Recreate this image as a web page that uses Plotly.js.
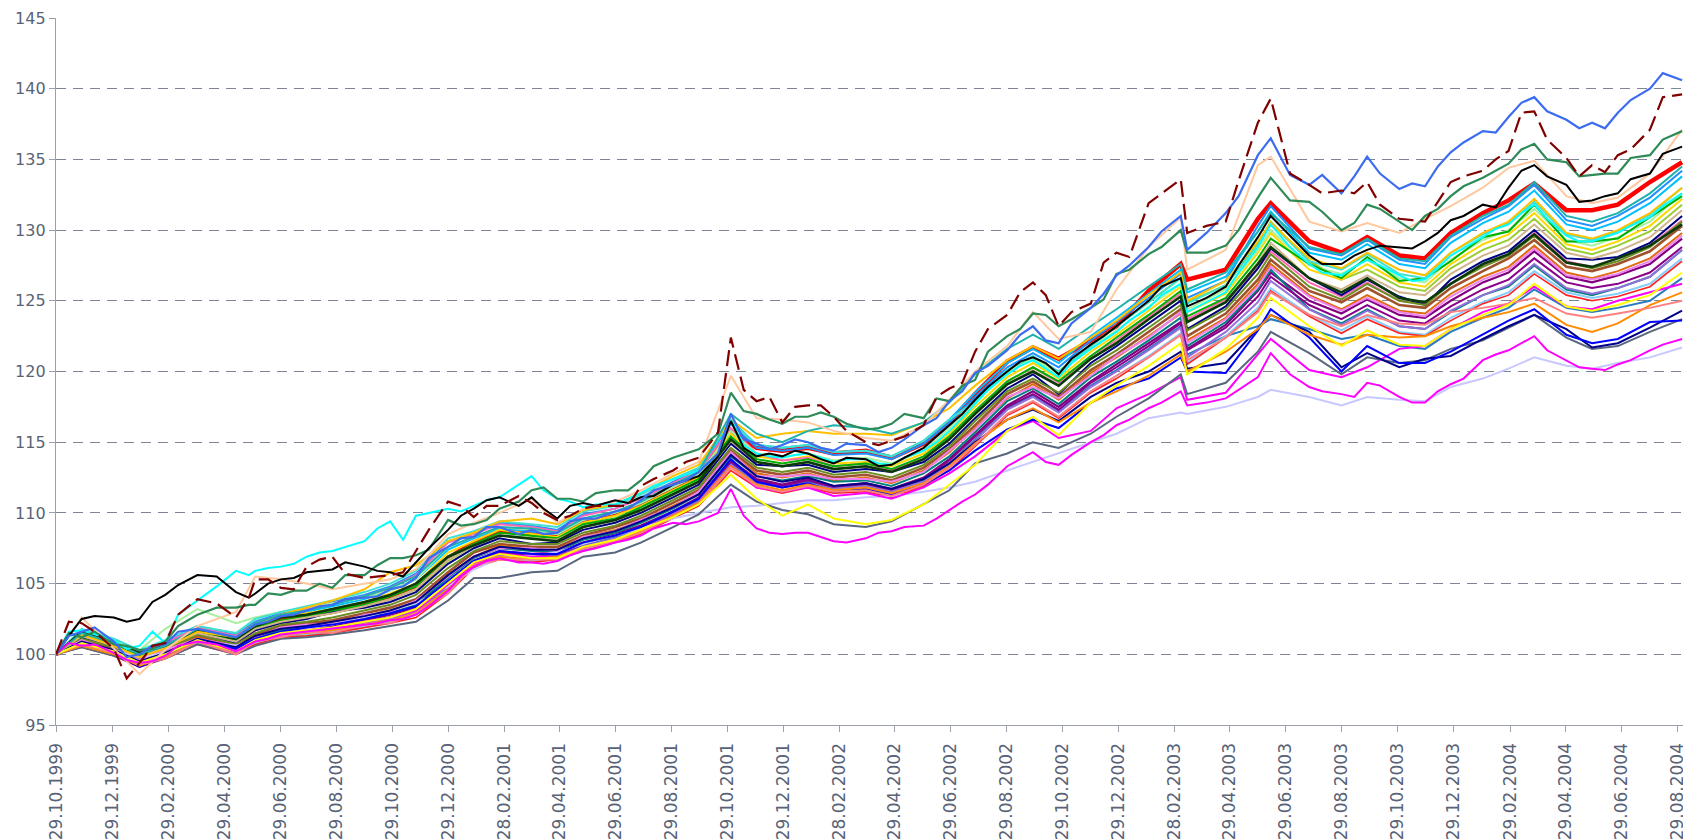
<!DOCTYPE html>
<html>
<head>
<meta charset="utf-8">
<script src="https://cdn.plot.ly/plotly-3.0.1.min.js"></script>
<style>
  html, body { margin: 0; padding: 0; background: #ffffff; }
  #chart { width: 1683px; height: 840px; }
</style>
</head>
<body>
<div id="chart"></div>
<script>
// ---------- DATA ----------
// monthly grid used by most series
const dates = ['1999-10-29','1999-11-26','1999-12-31','2000-01-28','2000-02-25','2000-03-31','2000-05-12','2000-06-02','2000-06-30','2000-07-28',
'2000-08-25','2000-09-29','2000-10-27','2000-11-24','2000-12-29','2001-01-26','2001-02-23','2001-03-30','2001-04-27','2001-05-25',
'2001-06-29','2001-07-27','2001-08-31','2001-09-28','2001-11-02','2001-11-30','2001-12-28','2002-01-25','2002-02-22','2002-03-29',
'2002-04-26','2002-05-31','2002-06-28','2002-07-26','2002-08-30','2002-09-27','2002-10-25','2002-11-29','2002-12-27','2003-01-31',
'2003-03-07','2003-03-14','2003-04-25','2003-05-30','2003-06-13','2003-07-25','2003-08-29','2003-09-26','2003-10-31','2003-11-28',
'2003-12-26','2004-01-30','2004-02-27','2004-03-26','2004-04-30','2004-05-28','2004-06-25','2004-07-30','2004-09-03'];

// finer (about two-weekly) grid used by the most visible single lines
const datesFine = ['1999-10-29','1999-11-12','1999-11-26','1999-12-10','1999-12-31','2000-01-14','2000-01-28','2000-02-11','2000-02-25','2000-03-10',
'2000-03-31','2000-04-21','2000-05-12','2000-05-26','2000-06-02','2000-06-16','2000-06-30','2000-07-14','2000-07-28','2000-08-11',
'2000-08-25','2000-09-08','2000-09-29','2000-10-13','2000-10-27','2000-11-10','2000-11-24','2000-12-08','2000-12-29','2001-01-12',
'2001-01-26','2001-02-09','2001-02-23','2001-03-16','2001-03-30','2001-04-12','2001-04-27','2001-05-11','2001-05-25','2001-06-08',
'2001-06-29','2001-07-13','2001-07-27','2001-08-10','2001-08-31','2001-09-14','2001-09-28','2001-10-19','2001-11-02','2001-11-16',
'2001-11-30','2001-12-14','2001-12-28','2002-01-11','2002-01-25','2002-02-08','2002-02-22','2002-03-08','2002-03-29','2002-04-12',
'2002-04-26','2002-05-10','2002-05-31','2002-06-14','2002-06-28','2002-07-12','2002-07-26','2002-08-09','2002-08-30','2002-09-13',
'2002-09-27','2002-10-11','2002-10-25','2002-11-08','2002-11-29','2002-12-13','2002-12-27','2003-01-10','2003-01-31','2003-02-14',
'2003-03-07','2003-03-14','2003-04-04','2003-04-25','2003-05-09','2003-05-30','2003-06-13','2003-07-04','2003-07-25','2003-08-08',
'2003-08-29','2003-09-12','2003-09-26','2003-10-10','2003-10-31','2003-11-14','2003-11-28','2003-12-12','2003-12-26','2004-01-09',
'2004-01-30','2004-02-13','2004-02-27','2004-03-12','2004-03-26','2004-04-09','2004-04-30','2004-05-14','2004-05-28','2004-06-11',
'2004-06-25','2004-07-09','2004-07-30','2004-08-13','2004-09-03'];

const tickLabels = ['29.10.1999','29.12.1999','29.02.2000','29.04.2000','29.06.2000','29.08.2000','29.10.2000','29.12.2000',
'28.02.2001','29.04.2001','29.06.2001','29.08.2001','29.10.2001','29.12.2001','28.02.2002','29.04.2002','29.06.2002',
'29.08.2002','29.10.2002','29.12.2002','28.02.2003','29.04.2003','29.06.2003','29.08.2003','29.10.2003','29.12.2003',
'29.02.2004','29.04.2004','29.06.2004','29.08.2004'];

// band series (monthly grid)
const dodgerBlue = [100,101.7,101.0,100.2,100.9,102.0,101.4,102.3,102.9,103.3,
103.7,104.2,104.8,105.7,108.0,108.5,109.3,109.1,108.8,109.9,
110.3,111.1,112.2,113.1,116.3,114.6,114.4,114.6,114.1,114.2,
113.8,114.9,116.4,118.2,120.3,121.3,120.3,122.2,123.5,125.2,
126.9,125.2,126.4,130.3,131.7,128.7,128.2,129.3,127.9,127.6,
129.5,130.8,131.7,133.2,130.7,130.3,131.0,132.3,134.2];
const deepSkyBlue = [100,101.5,100.9,100.0,100.7,101.8,101.2,102.1,102.7,103.0,
103.4,103.9,104.5,105.3,107.4,108.2,108.9,108.7,108.5,109.5,
110.0,110.7,111.9,112.7,116.6,114.8,114.6,114.8,114.3,114.4,
114.0,115.1,116.6,118.5,120.6,121.6,120.6,122.5,123.8,125.5,
127.2,125.6,126.7,129.9,131.3,128.4,127.9,129.0,127.6,127.3,
129.1,130.5,131.3,132.8,130.4,130.0,130.6,131.9,133.8];
const darkGreen = [100,101.6,100.8,100.1,100.6,101.7,101.1,102.0,102.6,102.8,
103.2,103.7,104.2,105.0,106.9,107.7,108.4,108.2,108.0,109.0,
109.5,110.2,111.3,112.2,115.2,113.6,113.3,113.6,113.1,113.3,
112.9,113.8,115.2,117.0,119.1,120.0,119.0,120.9,122.0,123.7,
125.3,123.5,124.9,127.6,128.8,126.6,125.6,126.6,125.2,124.9,
126.2,127.6,128.3,129.7,127.7,127.4,128.0,128.9,130.4];
const sienna = [100,101.0,100.4,99.6,100.2,101.3,100.6,101.4,102.0,102.2,
102.4,102.9,103.3,103.9,105.8,107.2,107.8,107.6,107.6,108.4,
109.0,109.6,110.7,111.6,114.4,113.0,112.7,113.0,112.5,112.7,
112.3,113.2,114.5,116.2,118.4,119.3,118.2,120.1,121.2,122.8,
124.4,122.5,124.1,126.5,127.9,125.7,124.9,125.9,124.7,124.5,
125.9,127.1,128.0,129.3,127.4,127.1,127.6,128.5,130.3];
const purple = [100,100.8,100.2,99.4,100.0,101.0,100.3,101.1,101.6,101.8,
102.0,102.4,102.8,103.3,105.1,106.6,107.3,107.1,107.2,107.9,
108.5,109.1,110.1,111.1,113.7,112.4,112.0,112.4,111.9,112.1,
111.7,112.5,113.8,115.5,117.6,118.6,117.5,119.3,120.5,122.0,
123.5,121.6,123.3,125.7,127.0,125.0,124.1,125.1,124.0,123.8,
125.0,126.3,127.0,128.5,126.7,126.3,126.8,127.6,129.4];
const chocolate = [100,100.9,100.3,99.5,100.1,101.2,100.5,101.3,101.8,102.0,
102.3,102.7,103.1,103.7,105.6,106.9,107.7,107.4,107.4,108.3,
108.8,109.4,110.5,111.4,114.2,112.8,112.5,112.8,112.3,112.5,
112.1,113.0,114.3,116.0,118.1,119.1,118.0,119.9,121.0,122.5,
124.1,122.2,123.8,126.2,127.6,125.4,124.4,125.4,124.3,124.1,
125.5,126.7,127.4,128.9,127.0,126.6,127.1,128.0,129.8];
const yellowGreen = [100,101.3,100.6,99.8,100.5,101.5,100.9,101.8,102.3,102.6,
102.9,103.4,103.9,104.6,106.6,107.7,108.4,108.2,108.1,109.0,
109.5,110.2,111.3,112.2,115.1,113.6,113.3,113.6,113.1,113.3,
112.9,113.8,115.6,117.9,120.1,121.0,120.0,121.9,123.2,124.9,
126.6,124.9,126.1,129.0,130.6,127.8,126.5,127.2,126.0,125.7,
127.3,128.6,129.3,130.8,128.7,128.3,128.9,129.9,131.8];
const goldBand = [100,101.4,100.8,100.0,100.6,101.7,101.1,102.0,102.6,102.9,
103.2,103.7,104.3,105.0,107.2,108.0,108.8,108.5,108.3,109.3,
109.8,110.5,111.6,112.5,115.6,114.0,113.7,114.0,113.5,113.6,
113.3,114.2,115.6,117.5,119.6,120.6,119.5,121.4,122.6,124.3,
126.0,124.2,125.5,128.4,129.8,127.2,126.5,127.6,126.3,126.0,
127.6,129.0,129.7,131.2,129.0,128.6,129.2,130.3,132.2];
const teal = [100,100.9,100.2,99.5,100.1,101.1,100.4,101.2,101.7,101.9,
102.1,102.6,102.9,103.5,105.4,106.8,107.5,107.3,107.3,108.1,
108.6,109.3,110.3,111.3,114.0,112.6,112.3,112.6,112.2,112.3,
111.9,112.8,114.0,115.7,117.9,118.8,117.7,119.6,120.7,122.2,
123.8,121.8,123.5,125.8,127.2,124.4,123.4,124.4,123.2,123.0,
124.2,125.4,126.0,127.5,125.8,125.4,125.9,126.7,128.6];
const hotPink = [100,101.6,101.0,100.1,100.8,101.9,101.3,102.2,102.8,103.2,
103.6,104.1,104.7,105.6,107.9,108.5,109.2,109.0,108.7,109.8,
110.3,111.0,112.1,113.0,116.0,114.2,113.7,113.9,113.3,113.5,
113.0,114.0,115.4,117.2,119.3,120.3,119.2,121.1,122.2,123.9,
125.5,123.7,125.1,127.3,128.5,126.3,125.3,126.3,125.0,124.8,
126.2,127.5,128.2,129.8,127.8,127.4,128.0,128.9,130.7];
const lightGreen = [100,101.5,101.0,100.3,101.8,103.2,102.2,102.6,103.0,103.3,
103.6,104.0,104.5,105.3,107.6,108.3,109.0,108.8,108.5,109.5,
110.0,110.7,111.8,112.7,115.8,114.2,114.0,114.2,113.7,113.9,
113.5,114.4,116.0,117.8,119.9,120.9,119.8,121.7,122.9,124.6,
126.2,124.4,125.8,128.6,130.0,127.5,126.9,127.9,126.6,126.3,
127.9,129.3,130.0,131.5,129.3,128.9,129.5,130.6,132.6];
const navyBand = [100,101.2,100.5,99.8,100.4,101.5,100.8,101.7,102.2,102.5,
103.0,103.3,103.7,104.4,106.4,107.5,108.2,107.8,107.9,108.8,
109.3,110.0,111.1,112.0,114.9,113.4,113.3,113.4,112.9,113.1,
112.9,113.6,114.9,116.7,118.8,119.8,118.4,120.6,121.8,123.4,
125.0,123.0,124.6,127.3,128.7,126.6,125.4,126.5,125.3,124.7,
126.5,127.8,128.5,130.0,128.0,127.9,128.1,129.1,131.0];
const olive = [100,101.1,100.5,99.7,100.3,101.4,100.7,101.5,102.1,102.3,
102.6,103.1,103.5,104.2,106.1,107.3,108.0,107.8,107.8,108.6,
109.1,109.8,110.9,111.8,114.6,113.2,112.9,113.2,112.7,112.9,
112.5,113.4,114.7,116.5,118.6,119.5,118.5,120.4,121.5,123.1,
124.7,122.9,124.4,126.9,128.3,126.0,125.1,126.2,125.0,124.7,
126.2,127.4,128.2,129.6,127.7,127.3,127.8,128.8,130.6];
const steelBlue = [100,100.7,100.1,99.3,99.9,100.9,100.2,101.0,101.5,101.6,
101.8,102.3,102.6,103.1,104.8,106.5,107.1,106.9,107.0,107.7,
108.3,108.9,110.0,110.9,113.5,112.2,111.8,112.2,111.8,112.0,
111.6,112.3,113.5,115.2,117.4,118.3,117.2,119.0,120.1,121.6,
123.2,121.2,122.5,123.2,123.7,123.0,122.3,122.6,121.8,121.6,
122.8,123.8,124.5,125.8,124.5,124.2,124.5,125.0,126.6];
const lightSkyBlue = [100,100.6,100.0,99.2,99.8,100.8,100.1,100.8,101.3,101.4,
101.6,102.0,102.3,102.8,104.4,106.2,106.8,106.6,106.8,107.4,
108.0,108.6,109.7,110.6,113.2,111.9,111.5,111.9,111.5,111.6,
111.2,112.0,113.2,114.8,117.0,117.9,116.8,118.6,119.7,121.1,
122.7,120.6,122.5,124.5,125.9,124.0,122.9,123.9,122.8,122.6,
123.8,124.9,125.6,127.1,125.6,125.2,125.5,126.2,128.0];
const violet = [100,101.0,100.2,99.6,100.3,101.1,100.6,101.2,101.9,102.1,
102.1,102.8,103.0,103.8,105.5,106.9,107.5,107.5,107.3,108.3,
108.7,109.5,110.4,111.5,114.3,112.6,112.6,112.7,112.4,112.4,
112.2,112.9,114.4,115.9,118.2,118.9,118.1,119.7,121.1,122.4,
124.2,122.0,123.7,126.0,127.4,125.3,124.3,125.2,124.2,123.9,
125.3,126.5,127.2,128.7,126.8,126.5,126.9,127.8,129.6];
const greenBand = [100,101.3,100.7,99.9,100.6,101.6,101.0,101.9,102.4,102.7,
103.1,103.5,104.1,104.8,106.9,107.8,108.6,108.4,108.2,109.2,
109.6,110.4,111.5,112.4,115.4,113.8,113.5,113.8,113.3,113.5,
113.1,114.0,115.4,117.2,119.3,120.3,119.3,121.1,122.4,124.0,
125.7,123.9,125.2,128.0,129.4,127.6,126.6,128.1,126.4,126.6,
127.8,129.5,129.9,131.8,129.2,129.2,129.4,130.9,132.4];
const darkMagenta = [100,100.8,100.1,99.3,100.0,100.9,100.3,101.0,101.5,101.7,
101.9,102.3,102.6,103.2,105.0,106.5,107.2,107.0,107.1,107.8,
108.4,109.0,110.0,111.0,113.6,112.3,111.9,112.3,111.8,112.0,
111.6,112.4,113.7,115.4,117.5,118.4,117.3,119.2,120.3,121.8,
123.4,121.5,123.1,125.3,126.7,124.7,123.7,124.7,123.6,123.4,
124.6,125.8,126.5,128.0,126.3,125.9,126.2,127.0,128.8];
const turquoise = [100,101.8,101.1,100.3,101.0,102.0,101.5,102.5,103.0,103.4,
103.8,104.4,105.0,105.9,108.2,108.7,109.4,109.2,109.0,110.1,
110.5,111.3,112.4,113.2,116.5,114.8,114.6,114.8,114.3,114.4,
114.0,115.1,116.6,117.9,120.1,121.1,120.0,121.8,123.2,124.9,
126.6,124.8,126.1,129.1,130.5,127.8,127.2,128.3,126.9,126.6,
128.4,129.7,130.5,132.0,129.7,129.3,129.9,131.1,133.0];
const tan = [100,101.3,100.6,99.8,100.5,101.5,100.9,101.8,102.3,102.6,
102.9,103.4,103.9,104.6,106.7,107.7,108.4,108.2,108.1,109.0,
109.5,110.2,111.3,112.2,115.1,113.6,113.3,113.6,113.1,113.3,
112.9,113.8,115.2,117.0,119.1,120.1,119.0,120.9,122.1,123.7,
125.4,123.5,124.9,127.7,129.1,126.6,125.8,126.8,125.6,125.4,
126.9,128.2,128.9,130.4,128.4,128.0,128.5,129.5,131.4];
const redThin = [100,100.5,99.9,99.1,99.7,100.7,100.0,100.7,101.2,101.3,
101.5,101.9,102.2,102.6,104.3,106.1,106.7,106.5,106.7,107.3,
107.9,108.5,109.6,110.5,113.0,111.8,111.4,111.8,111.4,111.5,
111.1,111.9,113.0,114.7,116.9,117.8,116.7,118.5,119.5,121.0,
122.6,120.5,122.4,124.3,125.7,123.9,122.7,123.7,122.7,122.5,
123.6,124.8,125.4,126.9,125.4,125.0,125.3,126.0,127.8];
const mediumPurple = [100,100.7,100.0,99.3,99.9,100.9,100.1,100.9,101.4,101.6,
101.8,102.2,102.5,103.0,104.7,106.4,107.0,106.8,106.9,107.6,
108.2,108.8,109.9,110.8,113.4,112.1,111.8,112.1,111.7,111.9,
111.5,112.2,113.4,115.1,117.3,118.2,117.1,118.9,120.0,121.5,
123.1,121.0,122.8,124.9,126.4,124.4,123.3,124.3,123.2,123.0,
124.3,125.4,126.1,127.6,125.9,125.5,125.9,126.7,128.6];

// distinct series on the monthly grid
const lavender = [100,100.6,100.3,99.8,100.1,100.9,100.6,101.0,101.5,101.8,
102.1,102.6,103.1,103.6,104.8,106.0,106.8,107.0,107.2,107.8,
108.4,108.9,109.6,110.0,110.4,110.5,110.7,110.9,110.9,111.1,
111.2,111.5,111.8,112.2,113.0,113.6,114.2,115.0,115.6,116.7,
117.1,117.0,117.5,118.2,118.7,118.2,117.6,118.2,118.0,117.9,
118.9,119.5,120.2,121.0,120.4,120.2,120.6,121.0,121.7];
const magenta2 = [100,100.7,100.2,99.3,99.9,101.0,100.3,101.0,101.5,101.7,
101.9,102.3,102.6,103.1,104.9,106.4,107.1,106.9,106.9,107.6,
108.1,108.7,109.8,110.7,113.3,111.8,111.5,111.8,111.2,111.4,
111.0,111.8,112.8,114.0,115.8,116.5,115.3,115.8,117.4,118.4,
119.6,118.0,118.5,121.2,122.3,120.1,119.6,120.3,121.6,121.8,
123.0,124.2,124.8,126.0,124.6,124.4,125.0,125.6,126.2];
const slateGray = [100,100.5,99.9,99.2,99.7,100.7,100.0,100.6,101.1,101.2,
101.4,101.7,102.0,102.3,103.8,105.4,105.4,105.8,105.9,106.9,
107.2,107.9,109.0,109.9,112.0,110.8,110.2,109.9,109.2,109.0,
109.4,110.6,111.6,113.5,114.2,115.0,114.6,115.6,116.8,118.1,
119.8,118.4,119.2,121.4,122.8,121.3,119.8,121.0,120.6,120.8,
121.6,122.2,123.1,124.0,122.4,121.6,121.8,122.8,123.7];
const blueLow = [100,100.8,100.0,99.1,99.8,101.0,100.4,101.1,101.6,101.9,
102.1,102.5,102.9,103.4,105.2,106.6,107.3,107.1,107.1,107.9,
108.4,109.0,110.1,111.0,113.8,112.2,111.8,112.1,111.5,111.7,
111.3,112.0,113.0,114.4,115.9,116.6,116.0,117.8,118.8,119.5,
121.0,120.0,119.9,122.9,124.4,122.4,120.0,121.8,120.6,120.6,
121.4,122.6,123.6,124.4,122.6,122.0,122.3,123.5,123.6];
const navyLow = [100,100.9,100.3,99.5,100.1,101.1,100.5,101.3,101.8,102.0,
102.3,102.7,103.1,103.7,105.6,106.9,107.6,107.4,107.4,108.2,
108.7,109.4,110.4,111.3,114.1,112.6,112.2,112.5,111.9,112.1,
111.7,112.4,113.5,115.0,116.6,117.3,116.5,118.2,119.2,120.0,
121.4,120.2,120.6,123.0,124.0,122.8,120.3,121.3,120.3,120.9,
121.1,122.3,123.2,124.0,123.0,121.7,122.0,123.1,124.3];
const orangeLow = [100,100.6,100.0,99.2,99.8,100.9,100.2,100.9,101.4,101.5,
101.7,102.1,102.4,102.9,104.6,106.3,106.9,106.7,106.9,107.5,
108.1,108.7,109.8,110.7,113.3,112.0,111.6,112.0,111.6,111.8,
111.4,112.1,113.3,114.9,116.6,117.4,116.4,117.8,118.6,119.7,
121.2,120.0,121.4,123.0,124.0,122.6,121.9,122.6,122.4,122.5,
123.2,123.8,124.2,124.8,123.3,122.8,123.4,124.7,125.6];
const salmon = [100,100.7,100.1,99.3,99.7,100.9,100.0,100.9,101.2,101.6,
101.5,102.1,102.2,102.9,104.3,106.3,106.7,106.7,106.7,107.5,
108.0,108.6,109.7,110.6,113.2,111.9,111.5,111.9,111.5,111.6,
111.2,112.0,113.2,114.8,117.0,117.9,116.8,118.6,119.7,121.0,
122.6,120.8,122.4,124.2,125.6,124.0,123.2,124.0,123.4,123.3,
124.2,124.5,124.8,125.2,124.1,123.8,124.1,124.5,125.0];
const yellowLow = [100,100.8,100.2,99.4,100.0,101.0,100.2,101.0,101.5,101.7,
101.9,102.3,102.6,103.2,105.0,106.5,107.1,106.8,106.8,107.6,
108.1,108.8,109.7,110.6,112.7,111.0,109.8,110.6,109.6,109.2,
109.5,110.6,112.0,113.4,115.8,116.8,115.5,117.8,119.0,120.4,
122.0,119.8,121.6,123.8,125.2,123.2,121.8,122.9,121.9,121.8,
123.0,124.0,124.7,126.2,124.6,124.3,124.7,125.4,127.0];
const goldTop = [100,101.4,100.6,99.8,100.4,101.6,101.2,102.1,102.8,103.3,
103.8,104.6,105.8,106.3,108.0,108.6,109.4,109.6,109.2,110.2,
110.6,111.4,112.6,113.4,116.6,115.3,115.6,115.8,115.6,115.6,
115.5,116.4,117.4,119.0,120.8,121.8,120.9,122.4,123.6,125.4,
127.0,125.0,126.4,129.2,130.5,128.0,127.3,128.4,127.2,126.8,
128.4,129.8,130.6,132.2,129.8,129.4,130.0,131.2,133.0];
const lightSeaGreen = [100,101.5,100.8,100.0,100.6,101.8,101.2,102.2,102.8,103.1,
103.5,104.1,104.7,105.5,107.6,108.3,109.0,108.9,108.6,109.6,
110.1,110.8,112.0,112.9,117.0,115.6,115.0,115.8,116.2,116.0,
115.6,116.4,117.8,119.8,121.6,122.6,121.6,123.2,124.4,126.0,
127.6,125.8,127.0,129.9,131.2,128.8,128.3,129.4,128.0,127.8,
129.6,131.0,131.8,133.4,131.0,130.6,131.2,132.6,134.5];
const redThick = [100,101.3,100.6,99.9,100.5,101.6,100.9,101.8,102.4,102.7,
103.0,103.5,104.0,104.7,106.8,107.9,108.7,108.6,108.4,109.4,
109.9,110.7,111.8,112.6,115.8,114.6,114.4,114.6,114.2,114.4,
113.9,114.9,116.4,118.4,120.7,121.7,120.9,122.2,123.2,125.7,
127.6,126.5,127.2,130.8,131.9,129.2,128.4,129.5,128.2,128.0,
129.8,131.2,132.1,133.3,131.4,131.4,131.8,133.4,134.8];
const peach = [100,102.6,100.4,98.6,100.3,102.0,103.0,105.5,105.3,105.0,
104.6,105.0,105.3,106.0,108.5,109.3,110.0,111.0,109.3,110.3,
110.8,111.6,112.8,113.6,119.7,116.7,116.6,116.4,115.8,115.3,
115.1,116.2,118.0,120.0,121.8,124.2,122.3,122.8,125.8,128.8,
130.9,127.2,128.6,134.6,135.2,130.6,129.9,130.5,129.8,130.8,
131.7,133.0,134.4,134.9,132.4,131.9,132.3,134.0,137.1];

// distinct series on the finer grid
const magentaLow = [100,100.8,100.6,100.7,100.1,99.6,99.4,99.5,99.9,100.6,
100.9,100.7,100.2,100.7,100.9,101.1,101.4,101.5,101.6,101.7,
101.8,101.9,102.1,102.2,102.4,102.5,102.8,103.4,104.5,105.5,
106.2,106.6,106.8,106.5,106.5,106.4,106.6,107.0,107.3,107.5,
107.9,108.1,108.4,108.9,109.3,109.2,109.4,110.0,111.7,109.8,
108.9,108.6,108.5,108.6,108.6,108.3,108.0,107.9,108.2,108.6,
108.7,109.0,109.1,109.6,110.2,110.8,111.3,112.0,113.3,113.8,
114.3,113.6,113.4,114.1,115.0,115.5,116.2,116.6,117.4,117.8,
118.6,117.6,117.8,118.1,118.7,119.6,121.3,119.8,118.9,118.6,
118.4,118.2,119.2,119.0,118.2,117.8,117.8,118.6,119.1,119.5,
120.8,121.2,121.5,122.0,122.5,121.5,120.8,120.3,120.2,120.1,
120.5,120.8,121.5,121.9,122.3];
const cyanLine = [100,101.6,101.7,101.4,101.0,100.4,100.6,101.6,100.8,102.8,
103.8,104.8,105.9,105.6,105.9,106.1,106.2,106.4,106.9,107.2,
107.3,107.6,108.0,108.9,109.4,108.1,109.8,110.0,110.3,110.1,
110.5,110.9,111.1,112.0,112.6,111.6,111.0,110.8,110.4,110.6,
110.6,111.0,111.4,111.9,112.4,112.7,113.0,114.0,116.6,114.8,
114.2,114.0,113.9,114.1,114.2,113.9,113.6,113.8,113.8,113.5,
113.4,113.9,114.4,115.0,115.8,116.7,117.7,118.7,119.8,120.4,
120.8,120.2,119.6,120.6,121.6,122.2,122.8,123.6,124.5,125.4,
126.2,124.2,124.9,125.6,127.0,128.8,130.4,128.8,127.6,127.0,
126.8,127.4,127.9,127.5,126.8,126.4,126.5,127.3,128.2,128.7,
129.5,130.1,130.4,131.2,131.8,130.8,129.6,129.2,129.2,129.5,
129.8,130.3,130.9,131.7,132.6];
const seaGreen = [100,101.5,101.2,101.6,100.7,100.6,100.3,100.4,100.9,102.0,
102.8,103.3,103.3,103.5,103.5,104.3,104.2,104.5,104.5,105.0,
104.7,105.6,105.6,106.3,106.8,106.8,107.0,107.4,109.5,109.1,
109.2,109.5,110.3,110.8,111.6,111.8,111.0,111.0,110.8,111.4,
111.6,111.6,112.3,113.3,113.9,114.2,114.5,115.6,118.5,117.2,
117.0,116.6,116.3,116.8,116.8,117.1,116.8,116.3,115.9,116.0,
116.3,117.0,116.7,118.1,117.9,119.0,119.4,121.4,122.5,123.0,
124.1,124.0,123.2,123.7,124.5,125.1,126.9,127.2,128.3,128.8,
130.0,128.4,128.4,128.9,130.0,132.3,133.7,132.1,132.0,131.3,
130.0,130.5,131.8,131.5,130.6,130.0,131.0,131.5,132.4,133.1,
133.7,134.2,134.7,135.7,136.1,135.0,134.8,133.8,133.9,134.0,
134.0,135.1,135.3,136.4,137.0];
const blackLine = [100,101.3,102.5,102.7,102.6,102.3,102.5,103.7,104.2,104.9,
105.6,105.5,104.4,104.0,104.3,105.0,105.3,105.4,105.8,105.9,
106.0,106.5,106.2,105.9,105.8,105.5,106.5,107.5,108.8,109.8,
110.3,110.9,111.1,110.5,111.1,110.3,109.6,110.5,110.7,110.5,
110.9,110.7,111.1,111.2,112.0,112.3,112.6,114.0,116.5,114.6,
114.0,114.2,114.0,114.4,114.2,113.8,113.5,113.9,113.8,113.3,
113.4,113.9,114.6,115.4,116.2,117.0,118.0,118.9,120.0,120.7,
121.0,120.6,119.8,120.9,121.9,122.5,123.2,123.9,125.0,126.0,
126.6,124.6,125.2,126.0,127.5,129.5,131.0,129.6,128.2,127.6,
127.6,128.2,128.6,128.9,128.8,128.7,129.2,129.8,130.7,131.0,
131.8,131.6,133.0,134.2,134.6,133.8,133.2,132.0,132.1,132.4,
132.6,133.6,134.0,135.4,135.9];
const royalBlue = [100,101.3,101.6,101.9,100.9,99.8,100.0,100.6,100.7,101.6,
101.8,101.5,101.2,101.8,102.1,102.3,102.7,102.8,103.1,103.4,
103.5,103.9,104.0,104.1,104.6,104.8,105.4,106.8,107.6,108.2,
108.3,109.0,109.0,108.5,108.8,108.5,108.6,109.4,109.6,109.6,
110.1,110.3,110.9,111.6,112.0,112.3,112.9,114.2,117.0,115.2,
114.9,114.5,114.8,115.2,115.0,114.6,114.4,114.9,114.8,114.3,
114.6,115.2,116.2,116.7,117.9,118.6,119.9,120.4,121.5,122.6,
123.2,122.2,122.0,123.4,124.5,125.5,126.8,127.5,128.8,129.9,
131.0,128.6,129.8,131.2,132.4,135.3,136.5,133.9,133.2,133.9,
132.6,133.8,135.2,134.0,132.9,133.3,133.1,134.5,135.5,136.2,
137.0,136.9,138.0,139.0,139.4,138.4,137.8,137.2,137.6,137.2,
138.3,139.2,140.0,141.1,140.6];
const maroonDashed = [100,102.3,102.2,101.6,100.4,98.3,99.4,100.6,100.8,102.8,
103.9,103.6,102.6,104.0,105.3,105.3,104.7,104.6,106.2,106.7,
106.9,105.7,105.4,105.5,105.6,105.8,107.3,108.8,110.8,110.5,
109.7,110.5,110.5,111.2,110.7,110.0,109.5,109.8,110.3,110.5,
110.5,110.5,111.9,112.4,113.0,113.6,113.9,115.7,122.4,118.7,
117.9,118.2,116.4,117.5,117.6,117.6,116.8,115.8,115.0,114.8,
115.1,115.4,116.2,118.2,118.8,119.2,121.4,123.0,124.0,125.6,
126.3,125.4,123.2,124.2,124.8,127.7,128.4,128.1,131.9,132.6,
133.6,129.8,130.3,130.6,133.5,137.6,139.3,134.0,133.2,132.6,
132.8,132.6,133.4,131.8,130.8,130.7,130.6,132.0,133.4,133.8,
134.2,135.0,135.6,138.3,138.4,136.4,135.1,133.8,134.6,134.1,
135.3,135.7,137.1,139.4,139.6];

// ---------- STYLE / DRAWING ORDER ----------
const seriesList = [
  {name:'Red thick', y:redThick, color:'#ff0000', width:4.5},
  {name:'Dodger blue', y:dodgerBlue, color:'#1e90ff', width:2},
  {name:'Deep sky blue', y:deepSkyBlue, color:'#00bfff', width:2},
  {name:'Sienna', y:sienna, color:'#a0522d', width:2.6},
  {name:'Purple', y:purple, color:'#800080', width:2.2},
  {name:'Chocolate', y:chocolate, color:'#e06a10', width:2},
  {name:'Yellow green', y:yellowGreen, color:'#9acd32', width:2},
  {name:'Gold', y:goldBand, color:'#ffd700', width:2},
  {name:'Teal', y:teal, color:'#008080', width:2},
  {name:'Hot pink', y:hotPink, color:'#ff69b4', width:2},
  {name:'Light green', y:lightGreen, color:'#a8f0a0', width:2},
  {name:'Navy', y:navyBand, color:'#000080', width:2},
  {name:'Olive', y:olive, color:'#6b8e23', width:2},
  {name:'Steel blue', y:steelBlue, color:'#2a7ac0', width:2},
  {name:'Light sky blue', y:lightSkyBlue, color:'#87cefa', width:2},
  {name:'Violet', y:violet, color:'#ee82ee', width:2},
  {name:'Green', y:greenBand, color:'#00b000', width:2},
  {name:'Dark magenta', y:darkMagenta, color:'#8b008b', width:2},
  {name:'Turquoise', y:turquoise, color:'#40e0d0', width:2},
  {name:'Tan', y:tan, color:'#d2b48c', width:2},
  {name:'Red thin', y:redThin, color:'#ff2020', width:1.6},
  {name:'Medium purple', y:mediumPurple, color:'#9370db', width:2},
  {name:'Dark green', y:darkGreen, color:'#0a3a0a', width:2.6},
  {name:'Lavender', y:lavender, color:'#c8c8ff', width:2},
  {name:'Magenta 2', y:magenta2, color:'#ff00ff', width:2},
  {name:'Slate gray', y:slateGray, color:'#58667e', width:2},
  {name:'Navy low', y:navyLow, color:'#00008b', width:2},
  {name:'Blue low', y:blueLow, color:'#0000ff', width:2},
  {name:'Orange low', y:orangeLow, color:'#ff8c00', width:2},
  {name:'Salmon', y:salmon, color:'#ff8080', width:2},
  {name:'Yellow', y:yellowLow, color:'#ffff00', width:2},
  {name:'Gold top', y:goldTop, color:'#ffc000', width:2},
  {name:'Light sea green', y:lightSeaGreen, color:'#20b2aa', width:2},
  {name:'Peach', y:peach, color:'#ffc89e', width:2},
  {name:'Magenta low', y:magentaLow, fine:true, color:'#ff00ff', width:2},
  {name:'Cyan', y:cyanLine, fine:true, color:'#00ffff', width:2},
  {name:'Sea green', y:seaGreen, fine:true, color:'#2e8b57', width:2.2},
  {name:'Black', y:blackLine, fine:true, color:'#000000', width:2},
  {name:'Royal blue', y:royalBlue, fine:true, color:'#3c6cf0', width:2.2},
  {name:'Maroon', y:maroonDashed, fine:true, color:'#800000', width:2.2, dash:'16px,7px'}
];

const traces = seriesList.map(s => ({
  type: 'scatter', mode: 'lines', name: s.name,
  x: s.fine ? datesFine : dates, y: s.y,
  line: {color: s.color, width: s.width, dash: s.dash || 'solid'},
  hoverinfo: 'skip'
}));

const tickVals = tickLabels.map(t => { const p = t.split('.'); return p[2] + '-' + p[1] + '-' + p[0]; });

const axisColor = '#9aa0ac';
const textColor = '#596377';
const fontFam = 'DejaVu Sans, Verdana, sans-serif';

const layout = {
  width: 1683, height: 840,
  margin: {l: 56, r: 0, t: 18, b: 115, pad: 0},
  paper_bgcolor: '#ffffff', plot_bgcolor: '#ffffff',
  showlegend: false,
  hovermode: false,
  xaxis: {
    type: 'date',
    range: ['1999-10-29', '2004-09-04'],
    tickmode: 'array', tickvals: tickVals, ticktext: tickLabels,
    tickangle: -90,
    ticks: 'outside', ticklen: 6, tickwidth: 1, tickcolor: axisColor,
    ticklabelstandoff: 4,
    ticklabeloverflow: 'allow',
    showline: true, linecolor: axisColor, linewidth: 1.2,
    showgrid: false, zeroline: false, automargin: false,
    tickfont: {family: fontFam, size: 17, color: textColor}
  },
  yaxis: {
    range: [95, 145], tick0: 95, dtick: 5,
    ticks: 'outside', ticklen: 6, tickwidth: 1, tickcolor: axisColor,
    showline: true, linecolor: axisColor, linewidth: 1.2,
    showgrid: true, gridcolor: '#7d8596', gridwidth: 1, griddash: '10px,7px',
    zeroline: false, automargin: false,
    tickfont: {family: fontFam, size: 16, color: textColor}
  }
};

Plotly.newPlot('chart', traces, layout, {displayModeBar: false, staticPlot: true});
</script>
</body>
</html>
